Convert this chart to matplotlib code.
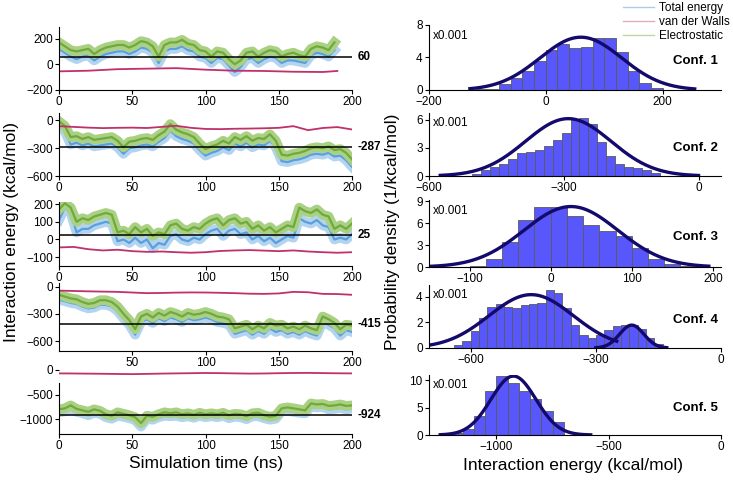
import numpy as np
import matplotlib
matplotlib.use('Agg')
import matplotlib.pyplot as plt
from matplotlib.lines import Line2D

plt.rcParams['font.family'] = ['Liberation Sans', 'DejaVu Sans']
plt.rcParams['font.size'] = 8

# ---------------- time series ----------------
t_a = np.arange(0, 189, 4)      # conf 1 stops at ~190 ns
t_b = np.arange(0, 201, 4)
tv_a = [0, 20, 40, 60, 80, 100, 120, 140, 160, 180, 190]
tv_b = np.arange(0, 201, 10)

ele1 = [170, 140, 110, 100, 110, 120, 80, 110, 130, 140, 150, 150, 130, 150, 180, 170,
        140, 60, 150, 170, 170, 190, 160, 150, 110, 100, 60, 100, 90, 40, 0, 30,
        90, 100, 60, 90, 110, 100, 60, 80, 90, 70, 60, 120, 140, 130, 110, 170]
tot1 = [120, 90, 60, 40, 60, 70, 30, 60, 80, 90, 100, 100, 80, 100, 130, 120,
        90, 10, 100, 120, 120, 140, 110, 100, 60, 50, 10, 50, 40, -10, -60, -20,
        40, 50, 10, 40, 60, 50, 10, 30, 30, 20, 10, 70, 90, 80, 60, 110]
vdw1 = [-55, -50, -38, -34, -30, -42, -50, -52, -58, -60, -52]

ele2 = [-10, -60, -180, -170, -200, -180, -210, -200, -190, -180, -220, -290, -230, -220,
        -200, -190, -210, -160, -120, -40, -100, -130, -150, -180, -250, -310, -280,
        -260, -220, -250, -180, -210, -170, -220, -190, -200, -150, -220, -370, -380,
        -360, -350, -330, -300, -290, -300, -280, -320, -310, -350, -420]
tot2 = [-40, -120, -260, -240, -270, -250, -280, -270, -260, -250, -290, -360, -300, -290,
        -270, -260, -280, -230, -190, -110, -170, -200, -220, -250, -320, -380, -350,
        -330, -290, -320, -250, -280, -240, -290, -260, -270, -220, -290, -440, -450,
        -430, -420, -400, -370, -360, -370, -350, -390, -380, -430, -500]
vdw2 = [-62, -70, -78, -83, -80, -78, -82, -70, -58, -80, -92, -94, -90, -88, -85, -80,
        -62, -105, -82, -72, -98]

ele3 = [170, 205, 180, 100, 120, 110, 130, 140, 150, 140, 40, 50, 30, 70, 40, 60, 20,
        40, 30, 80, 90, 60, 50, 70, 60, 90, 110, 120, 80, 110, 120, 90, 100, 60, 80, 50,
        70, 40, 60, 80, 70, 180, 160, 150, 170, 140, 130, 60, 80, 60, 90]
tot3 = [110, 180, 150, 40, 60, 60, 80, 90, 100, 90, -10, 0, -20, 10, -20, 0, -50,
        -20, -30, 20, 30, 0, -10, 10, 0, 30, 50, 60, 20, 50, 60, 30, 40, 0, 20, -10,
        10, -20, 0, 20, 10, 120, 100, 90, 110, 80, 70, 0, 10, 0, 30]
vdw3 = [-45, -42, -55, -62, -58, -66, -70, -68, -72, -75, -72, -65, -62, -60, -63, -66,
        -62, -68, -72, -75, -72]

ele4 = [-90, -110, -130, -140, -170, -190, -180, -150, -150, -170, -220, -300, -370, -470,
        -330, -300, -340, -290, -320, -280, -300, -330, -290, -310, -300, -280, -300,
        -330, -340, -360, -460, -440, -420, -470, -430, -460, -400, -430, -420, -460,
        -440, -470, -430, -460, -480, -330, -360, -400, -470, -420, -430]
tot4 = [-145, -160, -180, -190, -220, -240, -230, -200, -200, -220, -270, -350, -420, -530,
        -390, -360, -400, -350, -380, -340, -360, -390, -350, -370, -360, -340, -360,
        -390, -400, -420, -520, -500, -480, -530, -490, -520, -460, -500, -480, -520,
        -500, -530, -490, -520, -540, -390, -420, -460, -540, -480, -500]
vdw4 = [-44, -48, -52, -55, -58, -65, -72, -70, -66, -64, -65, -68, -72, -78, -80, -75,
        -58, -62, -80, -82, -90]

ele5 = [-800, -780, -720, -790, -820, -850, -800, -830, -900, -930, -860, -890, -920, -960,
        -1080, -930, -950, -900, -860, -880, -860, -900, -880, -910, -870, -900, -880,
        -900, -870, -920, -890, -900, -940, -880, -870, -920, -950, -930, -780, -760,
        -780, -800, -820, -680, -700, -690, -730, -720, -700, -730, -720]
tot5 = [-860, -840, -790, -850, -880, -920, -870, -890, -960, -990, -930, -950, -980, -1020,
        -1150, -990, -1010, -960, -930, -940, -930, -960, -940, -970, -930, -960, -940,
        -960, -930, -980, -950, -960, -1000, -940, -940, -980, -1010, -990, -840, -830,
        -850, -870, -880, -750, -760, -750, -800, -790, -770, -800, -780]
vdw5 = [-70, -72, -75, -78, -82, -85, -80, -74, -70, -66, -62, -65, -70, -74, -72, -66,
        -62, -60, -64, -68, -70]

means = [60, -287, 25, -415, -924]

# ---------------- histograms ----------------
h1_start, h1_w = -160, 20
h1 = [0.05, 0.05, 0.1, 0.15, 0.7, 1.5, 2.3, 3.6, 4.9, 5.7, 5.2, 5.3, 6.45, 6.45, 4.65, 2.3, 0.8, 0.2]
h2_start, h2_w = -505, 20
h2 = [0.2, 0.6, 1.0, 1.3, 1.8, 2.4, 2.6, 2.8, 3.2, 3.8, 4.6, 6.0, 6.2, 5.5, 3.6, 2.1, 1.3,
      1.0, 0.8, 0.6, 0.3]
h3_start, h3_w = -100, 20
h3 = [0.15, 1.15, 3.45, 6.45, 8.2, 8.2, 7.0, 5.8, 5.0, 4.25, 2.6, 1.15, 0.4, 0.15]
h4_start, h4_w = -640, 20
h4 = [0.2, 0.55, 1.3, 2.3, 3.2, 3.4, 3.2, 3.1, 3.35, 3.45, 3.5, 4.5, 4.3, 3.1, 1.8, 1.05,
      0.75, 1.0, 1.4, 1.7, 1.8, 1.8, 1.45, 0.8, 0.3]
h5_start, h5_w = -1200, 50
h5 = [0.4, 1.1, 3.5, 8.0, 10.8, 9.5, 8.1, 6.6, 4.4, 2.4]

# gaussian fits: (amplitude x1000, mean, sigma, from, to)
fits = [[(6.5, 60, 70, -130, 255)],
        [(6.1, -290, 95, -575, 0)],
        [(8.3, 25, 58, -148, 195)],
        [(4.15, -455, 101, -700, -250), (1.78, -214, 29, -300, -130)],
        [(10.8, -924, 100, -1250, -580)]]

W, H = 733, 486
fig = plt.figure(figsize=(W / 100, H / 100), dpi=100)


def px_axes(l, t, r, b):
    return fig.add_axes([l / W, 1 - b / H, (r - l) / W, (b - t) / H])


blue_c, blue_l = '#5a9fdc', '#b3d4f0'
green_c, green_l = '#71aa3c', '#a9d083'
pink_c = '#c0306a'

left_boxes = [(27, 90), (113, 176), (202, 266), (283, 351), (366, 434)]
left_ylims = [(-200, 290), (-600, 80), (-150, 212), (-710, 40), (-1300, 80)]
left_yticks = [[-200, 0, 200], [-600, -300, 0], [-100, 0, 100, 200], [-600, -300, 0],
               [-1000, -500, 0]]
series = [(t_a, tot1, ele1, tv_a, vdw1), (t_b, tot2, ele2, tv_b, vdw2),
          (t_b, tot3, ele3, tv_b, vdw3), (t_b, tot4, ele4, tv_b, vdw4),
          (t_b, tot5, ele5, tv_b, vdw5)]

for i, (top, bot) in enumerate(left_boxes):
    ax = px_axes(59, top, 352, bot)
    t, tot, ele, tv, vdw = series[i]
    ax.plot(t, tot, color=blue_l, lw=7, solid_joinstyle='round')
    ax.plot(t, tot, color=blue_c, lw=1.6)
    ax.plot(t, ele, color=green_l, lw=7, solid_joinstyle='round')
    ax.plot(t, ele, color=green_c, lw=1.6)
    ax.plot(tv, vdw, color=pink_c, lw=1.3)
    ax.axhline(means[i], color='black', lw=1.1)
    ax.text(1.02, means[i], str(means[i]), transform=ax.get_yaxis_transform(),
            fontsize=8.5, fontweight='bold', va='center', ha='left')
    ax.set_xlim(0, 200)
    ax.set_ylim(*left_ylims[i])
    ax.set_yticks(left_yticks[i])
    if i == 3:
        ax.set_xticks([50, 100, 150, 200])
    else:
        ax.set_xticks([0, 50, 100, 150, 200])
    if i == 4:
        ax.spines['left'].set_bounds(-1300, -270)
    for s in ['top', 'right']:
        ax.spines[s].set_visible(False)
    ax.tick_params(labelsize=8.5, length=3, width=0.8, pad=1.5)

right_boxes = [(25, 90), (113, 176), (200, 267), (285, 348), (375, 435)]
right_xlims = [(-200, 300), (-600, 50), (-150, 210), (-700, 0), (-1300, 0)]
right_ylims = [(0, 8), (0, 6.7), (0, 9.2), (0, 4.9), (0, 11)]
right_xticks = [[-200, 0, 200], [-600, -300, 0], [-100, 0, 100, 200], [-600, -300, 0],
                [-1000, -500, 0]]
right_yticks = [[0, 4, 8], [0, 3, 6], [0, 3, 6, 9], [0, 2, 4], [0, 5, 10]]
hists = [(h1_start, h1_w, h1), (h2_start, h2_w, h2), (h3_start, h3_w, h3),
         (h4_start, h4_w, h4), (h5_start, h5_w, h5)]

for i, (top, bot) in enumerate(right_boxes):
    ax = px_axes(429, top, 721, bot)
    start, w, hh = hists[i]
    edges = start + w * np.arange(len(hh))
    ax.bar(edges, hh, width=w, align='edge', color='#5757fb', edgecolor='#5a5a5a', lw=0.6)
    for amp, mu, sig, lo, hi in fits[i]:
        x = np.linspace(lo, hi, 300)
        ax.plot(x, amp * np.exp(-0.5 * ((x - mu) / sig) ** 2), color='#130a6b', lw=2.4)
    ax.set_xlim(*right_xlims[i])
    ax.set_ylim(*right_ylims[i])
    ax.set_xticks(right_xticks[i])
    ax.set_yticks(right_yticks[i])
    for s in ['top', 'right']:
        ax.spines[s].set_visible(False)
    ax.tick_params(labelsize=8.5, length=3, width=0.8, pad=1.5)
    ax.text(0.012, 0.93, 'x0.001', transform=ax.transAxes, fontsize=8.5, va='top')
    ax.text(0.99, 0.45, 'Conf. %d' % (i + 1), transform=ax.transAxes, fontsize=9.5,
            fontweight='bold', ha='right', va='center')

fig.text(12 / W, 1 - 232 / H, 'Interaction energy (kcal/mol)', rotation=90,
         fontsize=12.5, ha='center', va='center')
fig.text(206 / W, 1 - 463 / H, 'Simulation time (ns)', fontsize=12.5, ha='center', va='center')
fig.text(393 / W, 1 - 232 / H, 'Probability density (1/kcal/mol)', rotation=90,
         fontsize=12.5, ha='center', va='center')
fig.text(573 / W, 1 - 465 / H, 'Interaction energy (kcal/mol)', fontsize=12.5,
         ha='center', va='center')

handles = [Line2D([], [], color='#a9cdee', lw=1),
           Line2D([], [], color='#e6a9c2', lw=1),
           Line2D([], [], color='#bcd9a0', lw=1)]
fig.legend(handles, ['Total energy', 'van der Walls', 'Electrostatic'],
           loc='upper right', bbox_to_anchor=(1.005, 1.01), frameon=False, fontsize=8.5,
           handlelength=2.6, handletextpad=0.4, labelspacing=0.15, borderaxespad=0.2)

fig.savefig('out.png', dpi=100)
